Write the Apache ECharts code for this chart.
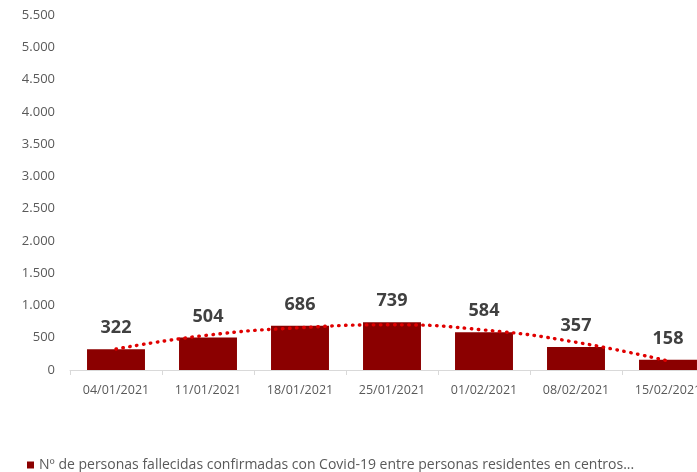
<!DOCTYPE html>
<html>
<head>
<meta charset="utf-8">
<script src="https://cdn.jsdelivr.net/npm/echarts@6/dist/echarts.min.js"></script>
<style>
  html, body { margin: 0; padding: 0; background: #fff; overflow: hidden; }
  /* el grafico original corta la ultima categoria por la derecha */
  #chart { width: 714px; height: 472px; }
</style>
</head>
<body>
<div id="chart"></div>
<script>
// semanas
const categories = ['04/01/2021', '11/01/2021', '18/01/2021', '25/01/2021', '01/02/2021', '08/02/2021', '15/02/2021']
// fallecidos por semana
const deaths = [322, 504, 686, 739, 584, 357, 158]
// linea de tendencia
const trend = [325, 540, 655, 700, 620, 430, 140]
const seriesName = 'Nº de personas fallecidas confirmadas con Covid-19 entre personas residentes en centros...'

const chart = echarts.init(document.getElementById('chart'))

const fmt = v => String(v).replace(/\B(?=(\d{3})+(?!\d))/g, '.')

chart.setOption({
  animation: false,
  textStyle: { fontFamily: 'Open Sans' },
  grid: {
    left: 70,
    right: 0,
    top: 15,
    bottom: 102
  },
  legend: {
    data: [seriesName],
    left: 22,
    top: 453,
    itemWidth: 7,
    itemHeight: 7,
    itemGap: 4,
    icon: 'rect',
    textStyle: { color: '#595959', fontSize: 14, fontFamily: 'Open Sans' }
  },
  xAxis: {
    type: 'category',
    data: categories,
    axisLine: { lineStyle: { color: '#d9d9d9', width: 1 } },
    axisTick: { show: true, length: 5, lineStyle: { color: '#d9d9d9' } },
    axisLabel: { color: '#595959', fontSize: 12.5, margin: 14 }
  },
  yAxis: {
    type: 'value',
    min: 0,
    max: 5500,
    interval: 500,
    axisLine: { show: false },
    axisTick: { show: false },
    splitLine: { show: false },
    axisLabel: { color: '#595959', fontSize: 13, margin: 15, formatter: fmt }
  },
  series: [{
    name: seriesName,
    type: 'bar',
    data: deaths,
    barWidth: '63%',
    itemStyle: { color: '#8b0000' },
    label: {
      show: true,
      position: 'top',
      distance: 12,
      color: '#404040',
      fontSize: 18,
      fontWeight: 'bold'
    }
  }, {
    name: 'tendencia',
    type: 'line',
    data: trend,
    smooth: true,
    showSymbol: false,
    silent: true,
    z: 5,
    lineStyle: { color: '#e00000', width: 3.4, type: [0.5, 6.5], cap: 'round' }
  }]
})
</script>
</body>
</html>
